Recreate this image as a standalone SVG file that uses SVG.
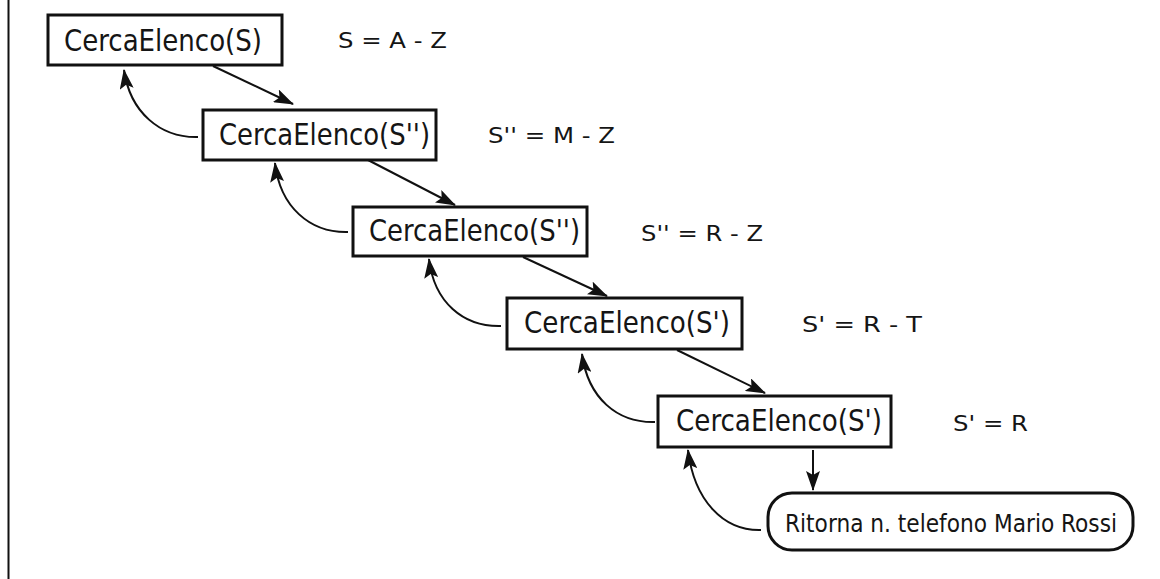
<svg xmlns="http://www.w3.org/2000/svg" width="1160" height="579" viewBox="0 0 1160 579">
  <defs>
    <style>
      .box { fill: #ffffff; stroke: #111111; stroke-width: 3; }
      .conn { fill: none; stroke: #111111; stroke-width: 2; marker-end: url(#arrow); }
      .t { font-family: "DejaVu Sans Condensed", "DejaVu Sans", sans-serif; font-stretch: condensed; font-size: 31px; fill: #151515; }
      .r { font-family: "DejaVu Sans Condensed", "DejaVu Sans", sans-serif; font-stretch: condensed; font-size: 25px; fill: #151515; }
      .lbl { font-family: "DejaVu Sans", sans-serif; font-size: 22px; fill: #151515; }
    </style>
    <marker id="arrow" markerUnits="userSpaceOnUse" viewBox="0 0 20 14" refX="19" refY="7" markerWidth="20" markerHeight="14" orient="auto">
      <path d="M0,0 L20,7 L0,14 L4,7 Z" fill="#111111"/>
    </marker>
  </defs>
  <rect x="0" y="0" width="1160" height="579" fill="#ffffff"/>
  <line x1="8.5" y1="0" x2="8.5" y2="579" stroke="#111111" stroke-width="2"/>

  <g id="connectors">
    <path class="conn" d="M213,66 L293,104"/>
    <path class="conn" d="M368,160 L455,205"/>
    <path class="conn" d="M523,257 L607,296"/>
    <path class="conn" d="M677,350 L765,393"/>
    <path class="conn" d="M813,450 L813,490"/>
    <path class="conn" d="M198,137 C160,138 130,112 124,70"/>
    <path class="conn" d="M348,232 C310,233 280,207 275,163"/>
    <path class="conn" d="M501,326 C463,327 434,302 429,259"/>
    <path class="conn" d="M655,422 C617,423 588,398 582,354"/>
    <path class="conn" d="M761,530 C723,531 694,500 688,450"/>
  </g>

  <g id="node1">
    <rect class="box" x="48" y="15" width="234" height="50"/>
    <text class="t" x="64" y="51" textLength="198" lengthAdjust="spacingAndGlyphs">CercaElenco(S)</text>
  </g>
  <g id="node2">
    <rect class="box" x="203" y="110" width="233" height="50"/>
    <text class="t" x="219" y="145" textLength="211" lengthAdjust="spacingAndGlyphs">CercaElenco(S'')</text>
  </g>
  <g id="node3">
    <rect class="box" x="353" y="207" width="234" height="49"/>
    <text class="t" x="369" y="241" textLength="211" lengthAdjust="spacingAndGlyphs">CercaElenco(S'')</text>
  </g>
  <g id="node4">
    <rect class="box" x="507" y="298" width="235" height="51"/>
    <text class="t" x="524" y="333" textLength="206" lengthAdjust="spacingAndGlyphs">CercaElenco(S')</text>
  </g>
  <g id="node5">
    <rect class="box" x="658" y="396" width="233" height="51"/>
    <text class="t" x="676" y="431" textLength="206" lengthAdjust="spacingAndGlyphs">CercaElenco(S')</text>
  </g>
  <g id="node6">
    <rect class="box" x="768" y="493" width="365" height="57" rx="24" ry="24"/>
    <text class="r" x="785" y="532" textLength="332" lengthAdjust="spacingAndGlyphs">Ritorna n. telefono Mario Rossi</text>
  </g>

  <g id="labels">
    <text class="lbl" x="338" y="48" textLength="109" lengthAdjust="spacingAndGlyphs">S = A - Z</text>
    <text class="lbl" x="488" y="143" textLength="127" lengthAdjust="spacingAndGlyphs">S'' = M - Z</text>
    <text class="lbl" x="641" y="241" textLength="122" lengthAdjust="spacingAndGlyphs">S'' = R - Z</text>
    <text class="lbl" x="802" y="332" textLength="120" lengthAdjust="spacingAndGlyphs">S' = R - T</text>
    <text class="lbl" x="953" y="431" textLength="75" lengthAdjust="spacingAndGlyphs">S' = R</text>
  </g>
</svg>
